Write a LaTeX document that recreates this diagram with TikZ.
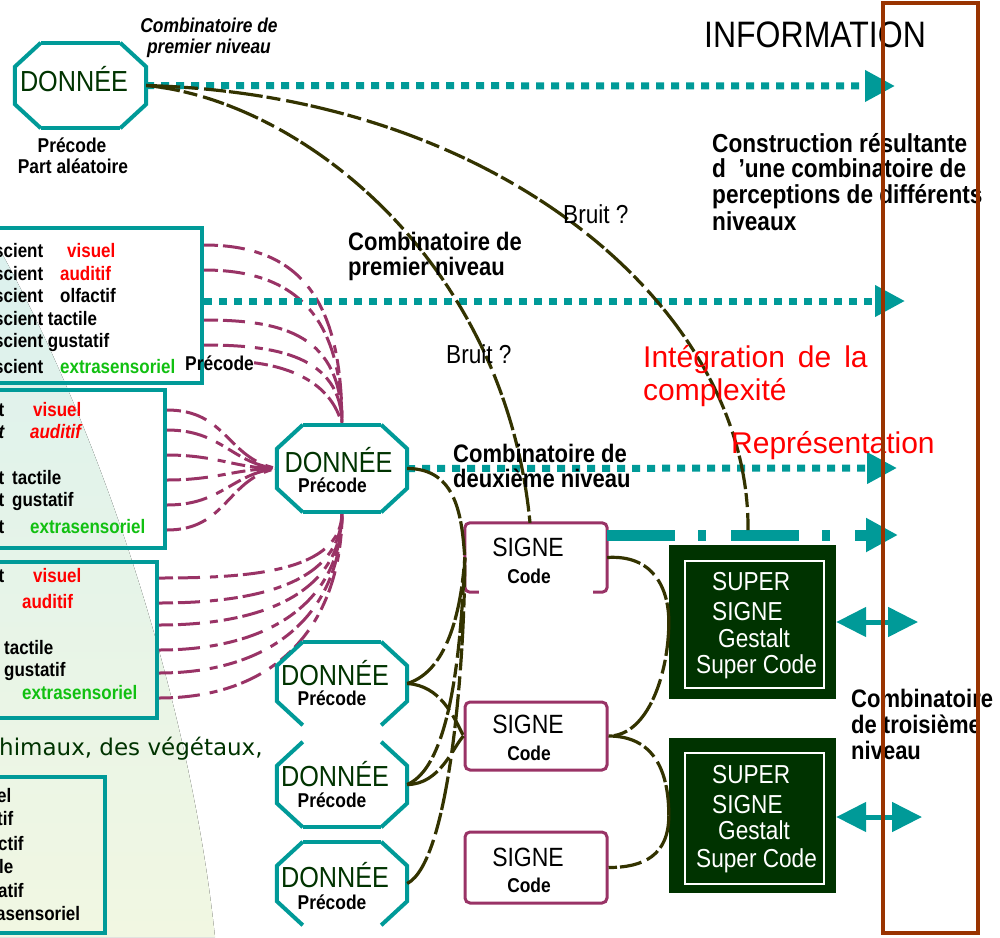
\documentclass[tikz,border=0pt]{standalone}
\usepackage{fontspec}
\setmainfont{Liberation Sans}[FakeStretch=0.87]
\newfontfamily\pleine{Liberation Sans}
\newfontfamily\verdana{DejaVu Sans}
\usetikzlibrary{arrows.meta}

\definecolor{sarcelle}{HTML}{009A98}
\definecolor{prune}{HTML}{993366}
\definecolor{kaki}{HTML}{333300}
\definecolor{vertfonce}{HTML}{003300}
\definecolor{brique}{HTML}{993300}
\definecolor{rouge}{HTML}{FF0000}
\definecolor{vertvif}{HTML}{11C011}
\definecolor{fanhaut}{HTML}{DCF1EE}
\definecolor{fanbas}{HTML}{F1F7E2}

\newcommand{\taille}[1]{\fontsize{#1}{#1}\selectfont}
\newcommand{\octocotes}[1]{%
	\draw[octoligne] ([xshift=26pt]#1.north west) -- ([yshift=-24pt]#1.north west) -- ([yshift=24pt]#1.south west) -- ([xshift=26pt]#1.south west);
	\draw[octoligne] ([xshift=-26pt]#1.north east) -- ([yshift=-24pt]#1.north east) -- ([yshift=24pt]#1.south east) -- ([xshift=-26pt]#1.south east);}
\newcommand{\octohaut}[1]{\draw[octoligne] ([xshift=26pt]#1.north west) -- ([xshift=-26pt]#1.north east);}
\newcommand{\octobas}[1]{\draw[octoligne] ([xshift=26pt]#1.south west) -- ([xshift=-26pt]#1.south east);}

\tikzset{
	txt/.style={inner sep=0pt, anchor=base west},
	ctxt/.style={inner sep=0pt, anchor=base},
	sens/.style={txt, font=\taille{19.5}\bfseries},
	precode/.style={font=\taille{20}\bfseries},
	donnee/.style={font=\taille{29}, text=vertfonce},
	comb/.style={txt, font=\taille{25.3}\bfseries},
	bruit/.style={txt, font=\taille{26}},
	rougetxt/.style={txt, font=\pleine\taille{30}, text=rouge},
	cadre/.style={draw=sarcelle, line width=4pt, inner sep=0pt},
	octo/.style={minimum width=130pt, inner sep=0pt},
	octoligne/.style={draw=sarcelle, line width=4pt},
	signe/.style={minimum width=142pt, inner sep=0pt},
	signeligne/.style={draw=prune, line width=3pt, rounded corners=5pt},
	supersigne/.style={fill=vertfonce, minimum width=167pt, inner sep=0pt},
	sstxt/.style={txt, font=\taille{26}, text=white},
	pointille/.style={sarcelle, line width=7pt, dash pattern=on 8pt off 7pt, -{Triangle[length=30pt,width=30pt]}},
	mixte/.style={sarcelle, line width=11pt, dash pattern=on 68pt off 23pt on 8pt off 25pt, -{Triangle[length=32pt,width=32pt]}},
	double/.style={sarcelle, line width=5pt, {Triangle[length=30pt,width=29pt]}-{Triangle[length=30pt,width=29pt]}},
	lien/.style={draw=kaki, line width=3.2pt, dash pattern=on 34pt off 4pt on 14pt off 6pt on 22pt off 3pt},
	fibre/.style={draw=prune, line width=3pt, dash pattern=on 14pt off 5pt on 22pt off 10pt on 8pt off 6pt},
}

\begin{document}
\begin{tikzpicture}[x=1pt,y=-1pt]
		\useasboundingbox (0,0) rectangle (1000,937);
		\clip (0,0) rectangle (1000,937);
		
		\fill[top color=fanhaut, bottom color=fanbas] (0,250) .. controls (100,430) and (190,700) .. (215,937) -- (0,937) -- cycle;
		
		\node[cadre, minimum width=212pt, minimum height=155pt] (b1) at (96,305.5) {};
		\node[cadre, minimum width=175pt, minimum height=158pt] (b2) at (77.5,469) {};
		\node[cadre, minimum width=167pt, minimum height=156pt] (b3) at (73.5,640) {};
		\node[cadre, minimum width=115pt, minimum height=156pt] (b4) at (47.5,855) {};
		
		\node[octo, minimum width=131pt, minimum height=85pt] (d1) at (80.5,85.5) {};
		\node[octo, minimum height=87pt] (d2) at (342,468.5) {};
		\node[octo, minimum height=83pt] (d3) at (342,683.5) {};
		\node[octo, minimum height=85pt] (d4) at (342,784.5) {};
		\node[octo, minimum height=83pt] (d5) at (342,883.5) {};
		
		\draw (185,370) node[txt, precode] (v7) {Précode};
		
		\draw[fibre] (b1.east |- 0,245) .. controls +(100,0) and +(0,-120) .. (d2.north);
		\draw[fibre] (b1.east |- 0,270) .. controls +(90,0) and +(0,-110) .. (d2.north);
		\draw[fibre] (b1.east |- 0,320) .. controls +(80,0) and +(0,-90) .. (d2.north);
		\draw[fibre] (b1.east |- 0,345) .. controls +(70,0) and +(0,-70) .. (d2.north);
		\draw[fibre] (v7.east) .. controls +(40,5) and +(-10,-40) .. (d2.north);
		
		\draw[fibre] (b2.east |- 0,410) .. controls +(60,0) and +(-50,-10) .. (d2.west);
		\draw[fibre] (b2.east |- 0,430) .. controls +(55,0) and +(-45,-5) .. (d2.west);
		\draw[fibre] (b2.east |- 0,455) .. controls +(50,0) and +(-40,0) .. (d2.west);
		\draw[fibre] (b2.east |- 0,480) .. controls +(50,0) and +(-40,0) .. (d2.west);
		\draw[fibre] (b2.east |- 0,505) .. controls +(55,0) and +(-45,5) .. (d2.west);
		\draw[fibre] (b2.east |- 0,530) .. controls +(60,0) and +(-50,10) .. (d2.west);
		
		\draw[fibre] (b3.east |- 0,578) .. controls +(90,0) and +(0,60) .. (d2.south);
		\draw[fibre] (b3.east |- 0,603) .. controls +(100,0) and +(0,70) .. (d2.south);
		\draw[fibre] (b3.east |- 0,625) .. controls +(105,0) and +(0,80) .. (d2.south);
		\draw[fibre] (b3.east |- 0,650) .. controls +(110,0) and +(0,90) .. (d2.south);
		\draw[fibre] (b3.east |- 0,673) .. controls +(115,0) and +(0,100) .. (d2.south);
		\draw[fibre] (b3.east |- 0,698) .. controls +(120,0) and +(0,110) .. (d2.south);
		
		\coordinate (finA) at (895,86);
		\coordinate (finB) at (905,301);
		\coordinate (finC) at (897,468);
		\coordinate (finD) at (898,535);
		\coordinate (finE) at (918,622);
		\coordinate (finF) at (922,817);
		\coordinate (bruitfin) at (748,530);
		
		\draw[pointille] (d1.east) -- (finA);
		\draw[pointille] (b1.east |- finB) -- (finB);
		\draw[pointille] (d2.east) -- (finC);
		
		\octocotes{d1} \octohaut{d1} \octobas{d1}
		\octocotes{d2} \octohaut{d2} \octobas{d2}
		\octocotes{d3} \octohaut{d3}
		\octocotes{d4} \octobas{d4}
		\octocotes{d5} \octohaut{d5}
		
		\node[signe, minimum height=69pt] (s1) at (536,557.5) {};
		\node[signe, signeligne, minimum height=68pt] (s2) at (536,736) {};
		\node[signe, signeligne, minimum height=71pt] (s3) at (536,867.5) {};
		\draw[signeligne] ([xshift=14pt]s1.south west) -- (s1.south west) -- (s1.north west) -- (s1.north east) -- (s1.south east) -- ([xshift=-14pt]s1.south east);
		
		\draw[mixte] (s1.north east |- finD) -- (finD);
		
		\node[supersigne, minimum height=154pt] (ss1) at (752.5,622) {};
		\node[supersigne, minimum height=155pt] (ss2) at (752.5,815.5) {};
		\draw[white, line width=2.5pt] ([shift={(16,16)}]ss1.north west) rectangle ([shift={(-12,-11)}]ss1.south east);
		\draw[white, line width=2.5pt] ([shift={(16,15)}]ss2.north west) rectangle ([shift={(-12,-9)}]ss2.south east);
		
		\draw[lien] (d1.east) .. controls (500,95) and (750,310) .. (bruitfin);
		\draw[lien] (d1.east) .. controls (300,100) and (505,260) .. ([xshift=-6pt]s1.north);
		
		\draw[lien] (d2.east) .. controls +(50,0) and +(-3,-40) .. (s1.west);
		\draw[lien] (d3.east) .. controls +(43,-13) and +(-3,45) .. (s1.west);
		\draw[lien] (d3.east) .. controls +(33,2) and +(-10,-20) .. (s2.west);
		\draw[lien] (d4.east) .. controls +(33,0) and +(-10,10) .. (s2.west);
		\draw[lien] (d4.east) .. controls +(48,-20) and +(-3,65) .. (s1.west);
		\draw[lien] (d5.east) .. controls +(43,-22) and +(0,100) .. (s1.west);
		
		\draw[lien] (s1.east) .. controls +(45,-3) and +(0,-35) .. (ss1.west);
		\draw[lien] (ss1.west) .. controls +(0,50) and +(40,0) .. (s2.east);
		\draw[lien] (s2.east) .. controls +(45,0) and +(0,-45) .. (ss2.west);
		\draw[lien] (ss2.west) .. controls +(0,40) and +(35,0) .. (s3.east);
		
		\draw[double] (ss1.east) -- (finE);
		\draw[double] (ss2.east |- finF) -- (finF);
		
		
		\draw (209,32) node[ctxt, font=\taille{20}\bfseries\itshape] (cp1) {Combinatoire de};
		\draw (209,53) node[ctxt, font=\taille{20}\bfseries\itshape] (cp2) {premier niveau};
		\draw (74,91) node[ctxt, donnee] (d1t) {DONNÉE};
		\draw (72,152) node[ctxt, precode] (d1p) {Précode};
		\draw (73,173) node[ctxt, precode] (d1a) {Part aléatoire};
		
		\draw (815,47) node[ctxt, font=\taille{36.8}] (titre) {INFORMATION};
		\draw (712,152) node[txt, font=\taille{26}\bfseries] (c1) {Construction résultante};
		\draw (712,177) node[txt, font=\taille{26}\bfseries] (c2) {d\ \ ’une combinatoire de};
		\draw (712,203) node[txt, font=\taille{26}\bfseries] (c3) {perceptions de différents};
		\draw (712,230) node[txt, font=\taille{26}\bfseries] (c4) {niveaux};
		
		\draw (563,223) node[bruit] (br1) {Bruit ?};
		\draw (446,363) node[bruit] (br2) {Bruit ?};
		\draw (348,250) node[comb] (m1) {Combinatoire de};
		\draw (348,275) node[comb] (m2) {premier niveau};
		\draw (643,367) node[rougetxt] (r1) {\spaceskip=13pt Intégration de la};
		\draw (643,400) node[rougetxt] (r2) {complexité};
		\draw (731,453) node[rougetxt] (r3) {Représentation};
		\draw (453,462) node[comb] (n1) {Combinatoire de};
		\draw (453,487) node[comb] (n2) {deuxième niveau};
		\draw (851,707) node[comb] (k1) {Combinatoire};
		\draw (851,733) node[comb] (k2) {de troisième};
		\draw (851,759) node[comb] (k3) {niveau};
		
		\draw (-6,257) node[sens] (v1) {scient};
		\draw (67,257) node[sens, text=rouge] (v1b) {visuel};
		\draw (-6,280) node[sens] (v2) {scient};
		\draw (60,280) node[sens, text=rouge] (v2b) {auditif};
		\draw (-6,302) node[sens] (v3) {scient};
		\draw (60,302) node[sens] (v3b) {olfactif};
		\draw (-6,325) node[sens] (v4) {scient tactile};
		\draw (-6,347) node[sens] (v5) {scient gustatif};
		\draw (-6,373) node[sens] (v6) {scient};
		\draw (60,373) node[sens, text=vertvif] (v6b) {extrasensoriel};
		
		\draw (-1.5,416) node[sens] (w1) {t};
		\draw (33,416) node[sens, text=rouge] (w1b) {visuel};
		\draw (-1.5,438) node[sens, font=\taille{19.5}\bfseries\itshape] (w2) {t};
		\draw (30,438) node[sens, font=\taille{19.5}\bfseries\itshape, text=rouge] (w2b) {auditif};
		\draw (-1.5,484) node[sens] (w3) {t};
		\draw (12,484) node[sens] (w3b) {tactile};
		\draw (-1.5,506) node[sens] (w4) {t};
		\draw (12,506) node[sens] (w4b) {gustatif};
		\draw (-1.5,533) node[sens] (w5) {t};
		\draw (30,533) node[sens, text=vertvif] (w5b) {extrasensoriel};
		
		\draw (-1.5,582) node[sens] (x1) {t};
		\draw (33,582) node[sens, text=rouge] (x1b) {visuel};
		\draw (22,608) node[sens, text=rouge] (x2) {auditif};
		\draw (4,654) node[sens] (x3) {tactile};
		\draw (4,676) node[sens] (x4) {gustatif};
		\draw (22,699) node[sens, text=vertvif] (x5) {extrasensoriel};
		
		\draw (-1,755) node[txt, font=\verdana\taille{23}, text=vertfonce] (regne) {himaux, des végétaux,};
		
		\draw (-3,802) node[sens] (y1) {el};
		\draw (-3,825) node[sens] (y2) {tif};
		\draw (-2,850) node[sens] (y3) {ctif};
		\draw (-1,873) node[sens] (y4) {le};
		\draw (-2,897) node[sens] (y5) {atif};
		\draw (-4,920) node[sens] (y6) {asensoriel};
		
		\draw (338.5,472) node[ctxt, donnee] (d2t) {DONNÉE};
		\draw (332.5,492) node[ctxt, precode] (d2p) {Précode};
		\draw (335,685.5) node[ctxt, donnee] (d3t) {DONNÉE};
		\draw (332,705) node[ctxt, precode] (d3p) {Précode};
		\draw (335,786) node[ctxt, donnee] (d4t) {DONNÉE};
		\draw (332,807) node[ctxt, precode] (d4p) {Précode};
		\draw (335,887) node[ctxt, donnee] (d5t) {DONNÉE};
		\draw (332,909) node[ctxt, precode] (d5p) {Précode};
		
		\draw (528,556) node[ctxt, font=\taille{26.4}] (s1t) {SIGNE};
		\draw (529,583) node[ctxt, precode] (s1c) {Code};
		\draw (528,733) node[ctxt, font=\taille{26.4}] (s2t) {SIGNE};
		\draw (529,760) node[ctxt, precode] (s2c) {Code};
		\draw (528,866) node[ctxt, font=\taille{26.4}] (s3t) {SIGNE};
		\draw (529,892) node[ctxt, precode] (s3c) {Code};
		
		\draw (712,590) node[sstxt] (ss1a) {SUPER};
		\draw (712,620) node[sstxt] (ss1b) {SIGNE};
		\draw (718,647) node[sstxt] (ss1c) {Gestalt};
		\draw (696,673) node[sstxt] (ss1d) {Super Code};
		\draw (712,783) node[sstxt] (ss2a) {SUPER};
		\draw (712,813) node[sstxt] (ss2b) {SIGNE};
		\draw (718,839) node[sstxt] (ss2c) {Gestalt};
		\draw (696,867) node[sstxt] (ss2d) {Super Code};
		
		
		\node[draw=brique, line width=3.5pt, minimum width=95pt, minimum height=930pt, inner sep=0pt] (info) at (930.5,468) {};
		\end{tikzpicture}
\end{document}
